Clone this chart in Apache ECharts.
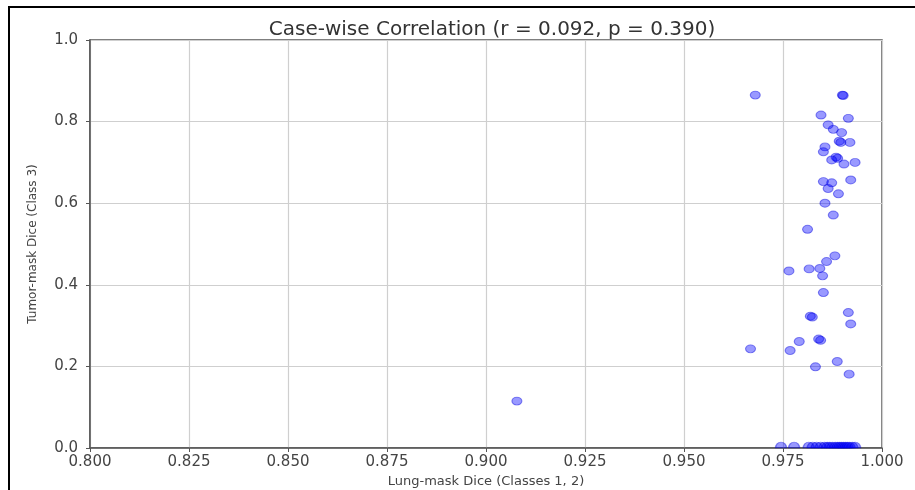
<!DOCTYPE html>
<html>
<head>
<meta charset="utf-8">
<script src="https://cdn.jsdelivr.net/npm/echarts@6/dist/echarts.min.js"></script>
<style>
html,body{margin:0;padding:0;background:#fff;}
#chart{width:915px;height:490px;}
</style>
</head>
<body>
<div id="chart"></div>
<script>
const titleText = 'Case-wise Correlation (r = 0.092, p = 0.390)';
const xAxisName = 'Lung-mask Dice (Classes 1, 2)';
const yAxisName = 'Tumor-mask Dice (Class 3)';
const xTicks = [0.800, 0.825, 0.850, 0.875, 0.900, 0.925, 0.950, 0.975, 1.000];
const yTicks = [0.0, 0.2, 0.4, 0.6, 0.8, 1.0];

const lungDice = [
  0.9078, 0.9668, 0.9680, 0.9900, 0.9902, 0.9846, 0.9915, 0.9864, 0.9877, 0.9898,
  0.9892, 0.9896, 0.9919, 0.9856, 0.9852, 0.9884, 0.9888, 0.9873, 0.9904, 0.9932,
  0.9852, 0.9873, 0.9921, 0.9864, 0.9890, 0.9856, 0.9877, 0.9812, 0.9881, 0.9860,
  0.9816, 0.9843, 0.9765, 0.9850, 0.9852, 0.9819, 0.9824, 0.9915, 0.9921, 0.9840,
  0.9845, 0.9791, 0.9768, 0.9832, 0.9887, 0.9917,
  0.9745, 0.9778, 0.9815, 0.9825, 0.9835, 0.9845, 0.9855, 0.9862, 0.9868, 0.9875,
  0.9882, 0.9888, 0.9893, 0.9898, 0.9903, 0.9908, 0.9913, 0.9918, 0.9925, 0.9932
];
const tumorDice = [
  0.115, 0.243, 0.865, 0.865, 0.864, 0.816, 0.808, 0.792, 0.781, 0.773,
  0.752, 0.749, 0.749, 0.738, 0.726, 0.713, 0.710, 0.706, 0.696, 0.700,
  0.653, 0.650, 0.657, 0.636, 0.623, 0.600, 0.571, 0.536, 0.471, 0.457,
  0.439, 0.440, 0.434, 0.422, 0.381, 0.323, 0.321, 0.332, 0.304, 0.267,
  0.264, 0.261, 0.239, 0.199, 0.212, 0.181,
  0, 0, 0, 0, 0, 0, 0, 0, 0, 0,
  0, 0, 0, 0, 0, 0, 0, 0, 0, 0
];

const allPoints = lungDice.map((x, i) => [x, tumorDice[i]]);
const abovePoints = allPoints.filter(p => p[1] > 0);
const zeroPoints = allPoints.filter(p => p[1] === 0);
const font = 'DejaVu Sans';
const markerStyle = {color: 'rgba(0,0,255,0.5)', borderColor: 'rgba(0,0,220,0.55)', borderWidth: 1};

const chart = echarts.init(document.getElementById('chart'), null, {renderer: 'canvas'});
chart.setOption({
  animation: false,
  backgroundColor: '#fff',
  title: {
    text: titleText,
    left: 487, top: 15, textAlign: 'center',
    textStyle: {fontFamily: font, fontSize: 20, fontWeight: 'normal', color: '#333'}
  },
  grid: {
    left: 90, right: 33, top: 40, bottom: 42,
    outerBoundsMode: 'none', containLabel: false,
    show: true, borderColor: '#555', borderWidth: 1.5, backgroundColor: 'transparent'
  },
  xAxis: {
    type: 'value',
    min: xTicks[0], max: xTicks[xTicks.length - 1], interval: 0.025,
    name: xAxisName, nameLocation: 'middle', nameGap: 25,
    nameTextStyle: {fontFamily: font, fontSize: 13, color: '#444'},
    axisLine: {show: true, lineStyle: {color: '#555', width: 1.5}},
    axisTick: {show: true, length: 4, lineStyle: {color: '#555'}},
    axisLabel: {fontFamily: font, fontSize: 15, color: '#444', margin: 7,
      formatter: v => v.toFixed(3)},
    splitLine: {show: true, lineStyle: {color: '#cfcfcf', width: 1.2}}
  },
  yAxis: {
    type: 'value',
    min: yTicks[0], max: yTicks[yTicks.length - 1], interval: 0.2,
    name: yAxisName, nameLocation: 'middle', nameGap: 51, nameRotate: 90,
    nameTextStyle: {fontFamily: font, fontSize: 12, color: '#444'},
    axisLine: {show: true, lineStyle: {color: '#555', width: 1.5}},
    axisTick: {show: true, length: 4, lineStyle: {color: '#555'}},
    axisLabel: {fontFamily: font, fontSize: 15, color: '#444', margin: 12,
      formatter: v => v.toFixed(1)},
    splitLine: {show: true, lineStyle: {color: '#cfcfcf', width: 1.2}}
  },
  series: [{
    type: 'scatter',
    data: abovePoints,
    symbol: 'circle',
    symbolSize: [10, 8],
    clip: false,
    itemStyle: markerStyle
  }, {
    type: 'scatter',
    data: zeroPoints,
    symbol: 'path://M0,10A10,10,0,0,1,20,10Z',
    symbolSize: [11, 6],
    symbolOffset: [0, -3],
    clip: false,
    itemStyle: markerStyle
  }],
  graphic: [{
    type: 'rect',
    shape: {x: 9, y: 7, width: 1000, height: 1000},
    style: {fill: 'none', stroke: '#000', lineWidth: 2},
    silent: true
  }]
});
</script>
</body>
</html>
